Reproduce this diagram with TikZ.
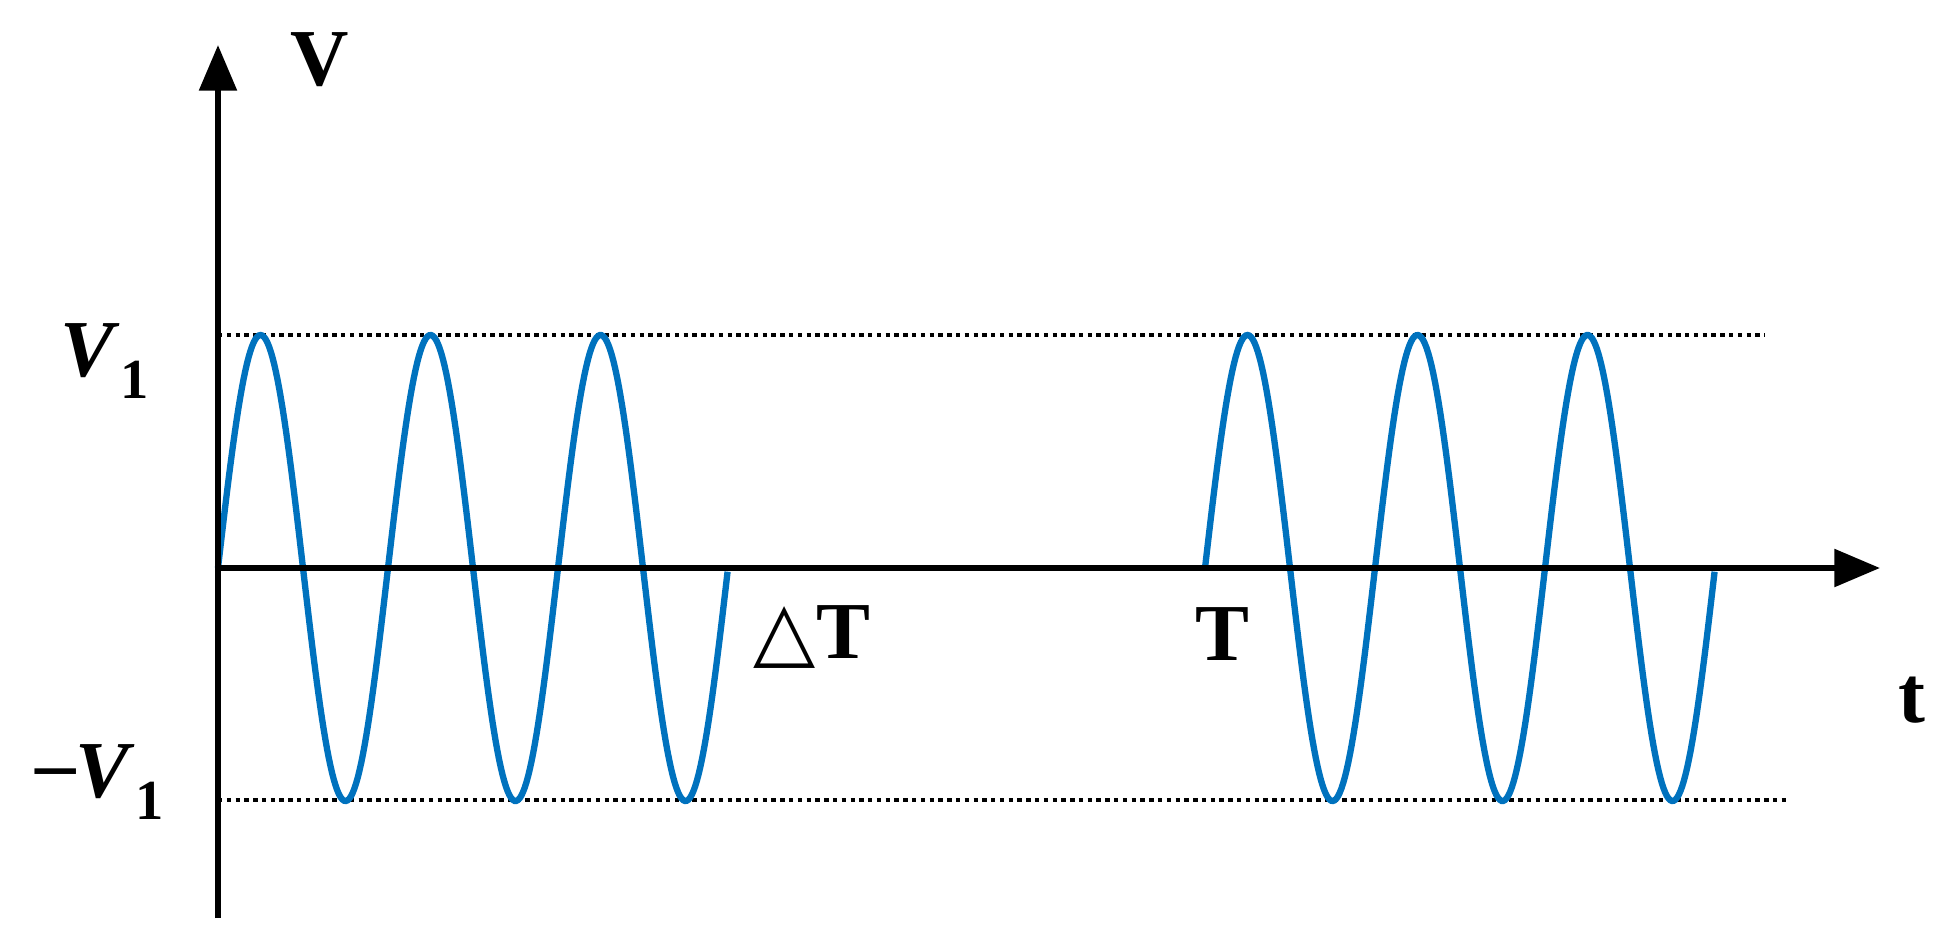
\documentclass[tikz,border=0pt]{standalone}
\usepackage{fontspec}
\setmainfont{Liberation Serif}
\usetikzlibrary{arrows.meta}
\newfontfamily\symfont{DejaVu Sans}
\definecolor{wave}{RGB}{0,114,190}
\begin{document}
\begin{tikzpicture}[x=0.02cm,y=-0.02cm,
  axis/.style={line width=3.4pt,-{Triangle[length=26pt,width=21pt]}},
  guide/.style={line width=1.8pt,dash pattern=on 2.5pt off 2.5pt},
  sig/.style={line width=3.6pt,wave},
  lab/.style={font=\fontsize{46}{50}\selectfont\bfseries,inner sep=0pt}]
\useasboundingbox (0,0) rectangle (1943,940);
\coordinate (o) at (218,568);
\coordinate (ytop) at (218,45);
\coordinate (ybot) at (218,918);
\coordinate (xend) at (1880,568);
\coordinate (p1) at (218,335); \coordinate (p2) at (1765,335);
\coordinate (m1) at (218,800); \coordinate (m2) at (1790,800);
\draw[guide] (p1) -- (p2);
\draw[guide] (m1) -- (m2);
\draw[sig] plot[domain=0:3,samples=300] ({218+170*\x},{568-233*sin(360*\x)});
\draw[sig] plot[domain=0:3,samples=300] ({1205+170*\x},{568-233*sin(360*\x)});
\draw[line width=3.4pt] (ybot) -- (o);
\draw[axis] (o) -- (ytop);
\draw[axis] (o) -- (xend);
\node[lab] (V) at (320,60) {V};
\node[lab] (V1) at (105,361) {\textit{V}\textsubscript{\raisebox{-6pt}{1}}};
\node[lab] (mV1) at (100,782) {\raisebox{4pt}{\textendash}\textit{V}\textsubscript{\raisebox{-6pt}{1}}};
\node[lab] (dT) at (812,637) {{\symfont △}T};
\node[lab] (T) at (1222,634) {T};
\node[lab] (t) at (1912,700) {t};
\end{tikzpicture}
\end{document}
